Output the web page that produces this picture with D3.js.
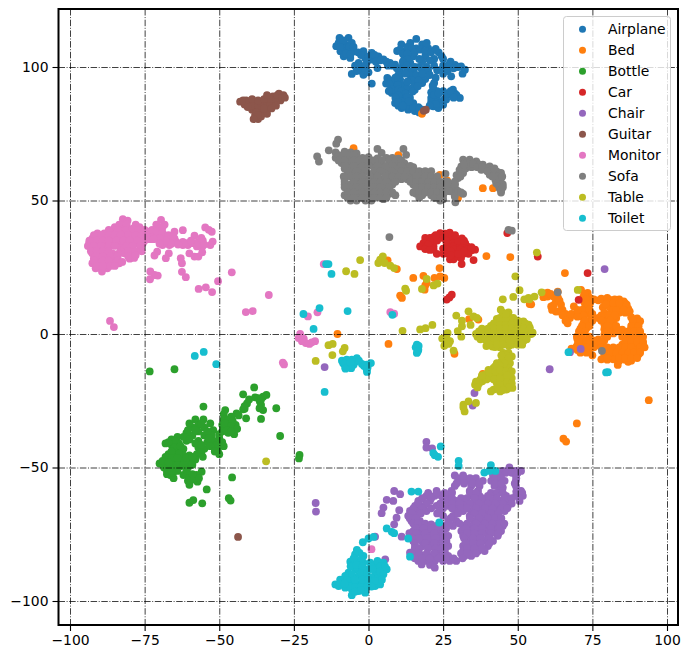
<!DOCTYPE html>
<html><head><meta charset="utf-8">
<script src="https://cdn.jsdelivr.net/npm/d3@7"></script>
<style>html,body{margin:0;padding:0;background:#fff}svg{display:block}text{font-family:"DejaVu Sans",sans-serif}</style>
</head><body><svg id="c" width="690" height="659"></svg>
<script>
const categories=["Airplane","Bed","Bottle","Car","Chair","Guitar","Monitor","Sofa","Table","Toilet"];
const palette=["#1f77b4","#ff7f0e","#2ca02c","#d62728","#9467bd","#8c564b","#e377c2","#7f7f7f","#bcbd22","#17becf"];
const xTicks=[-100,-75,-50,-25,0,25,50,75,100];
const yTicks=[-100,-50,0,50,100];
const airplane=[[-9.7,110.9],[-6.7,110.9],[-10.8,107.8],[-9.4,105.9],[-7.8,108.4],[-5.6,109],[-8.3,104],[-6.1,103.4],[-5,105.9],[-7,106.5],[-1.7,105.9],[-1.1,103.4],[1.1,105.3],[3.3,104],[1.1,102.8],[-3.3,101.5],[-5.6,97.4],[-2.2,98.4],[-1.7,97.1],[-2.8,99.6],[1.1,93.8],[3,99.6],[5,102.8],[7.2,101.5],[8.9,100.9],[10.6,98.4],[10.3,96.5],[6.3,95.9],[5.9,93.8],[8.9,94.6],[10.6,95.3],[11.1,93.4],[8.3,92.8],[7.8,90.3],[9.4,90.3],[11.7,89.7],[13.9,88.4],[15,86.5],[16.7,85],[8.9,86.5],[10,85.5],[11.1,84.6],[13.3,84],[15.5,83.5],[17,83],[18,84],[12,87],[10,88],[14,86],[9.6,106],[11,108.5],[12.5,106],[14,109],[16,110.5],[18,108.5],[20,107],[23.5,105.5],[15,104],[12,103],[14,101.5],[19,104],[22,103],[25,103],[11.5,100.5],[13,99],[15,98.5],[17,100],[19.5,100],[22,100.5],[25,100.5],[27.5,102],[29,100.8],[31,100.2],[32.3,99],[31.5,97.5],[26.5,98.5],[27.7,96.5],[25,97.5],[22.5,96],[15,96],[17,96.5],[19,95.5],[16,93.5],[18,94],[15.5,91.5],[21.7,92],[21,88.4],[21.7,85.3],[23.4,84.6],[25,85.9],[25,91],[28.3,91.5],[30.6,88.4],[27.2,89.6],[26,87.8],[23,88],[23,91],[21,90.5],[21,87],[29,90],[13,92],[18,102],[16,107],[19.5,109],
[-10,109],[-8.5,110],[-8,107],[-9.5,107.5],[-6.5,107.5],[-5,107.5],[-7.5,105],[-6,104.8],[-3.5,105.5],[-2.5,104.5],[0,104],[2,104.5],[-0.5,102],[2.5,102],[4,102.5],[6,102],[-4.5,100.5],[-3,100],[-4,98.5],[-1,99],[-1,100.8],[0,98],[6.5,100.5],[8,100.5],[9.5,99.5],[10,97],[9,96],[7.5,95],[9.8,93.3],[7,93.5],[8,91.5],[6.8,91],[10,91.5],[11,91],[12.5,90],[13,88.8],[10,89.5],[9,88.5],[11,87],[12.5,85.5],[9.8,86.8],[15,85],[13.5,87],[11.5,85.5],[17,84.5],[10.5,106.5],[11.5,105],[13,107.5],[14.5,107],[13,105],[15.5,105.5],[17.5,106.5],[19,106],[21,105.5],[22.5,106.8],[24.5,104],[17,103],[20.5,102.5],[13,102.8],[11.5,102],[12.8,100.5],[15.5,100],[18,98.5],[20,98.5],[23,98.8],[24.5,99],[26,99.5],[27,101],[30,100],[28.5,99.5],[14,97],[12.5,97.5],[16,97],[18,97.5],[20.5,97],[14.5,95],[13,94.5],[16.8,95],[15,92.5],[14.8,90.8],[16.5,92.8],[22,94],[21.5,93],[22,89.5],[23.5,90],[24,86.5],[25.5,88],[22.5,86.2],[26,90],[27.5,91],[29.5,89.5],[28.5,88.5],[20.5,85.5]];
const bed=[[58.4,15.3],[60,15.5],[63.4,15.9],[62.8,12.2],[61.2,10.3],[62.8,8.4],[65,9],[66.7,5.9],[66.7,4],[69,7.2],[68.8,10.3],[54.5,11.1],[58.6,13.8],[62,14],[63.5,13.5],[68,-5.5],[65.8,22.8],[93.9,-24.8],[69.8,-33.5],[65.3,-39.2],[66.2,-40.3],[-10.4,0],[6.7,-3.7],[9.5,24.3],[6.4,27.6],[10.6,14.4],[11.2,13.5],[15,21],[18.4,21.8],[23.8,24.7],[22.1,21],[24,21.6],[25.4,21],[19.5,19.1],[19,18.2],[18.8,16.6],[39.5,29.2],[47.5,28.8],[28.8,-7.4],[36.8,5.4],[33.7,5.6],[38.3,-14.9],[54,11.2],[25.9,-1.2],[17.9,82.5],[26.3,57.5],[38.3,54.6],[41.7,54.6],[30,51],[10,67],[-5,69.6],[23.9,59.6],
[71.2,16.5],[73.4,15.4],[72,14],[74,13.6],[72.3,12],[74.2,11.5],[77,12.6],[79,12.4],[81,12.8],[84,13],[85.5,12.2],[72.5,10],[78.5,10],[80.5,10.4],[83,10.2],[85,10],[87,9.5],[70.5,8],[73,8],[79,8],[81,7.8],[84,8],[86,8],[72,6],[74.5,6.5],[77,6],[80,5.7],[83,6],[88,6.3],[90,5.8],[72,4],[74,4.4],[79,3.6],[82,4],[89.5,4.2],[71,2],[73,2.2],[79,1.8],[81,2.4],[83,2],[85,1.6],[88,2],[90,1.8],[71.5,0],[79,-0.2],[82,0.2],[86,-0.2],[88,0],[91,0],[70,-2],[72,-2.2],[75,-2.3],[77,-2],[79,-2.4],[87,-2],[89,-1.8],[91.5,-2.2],[70,-4],[72,-4.2],[74,-4],[76,-4.4],[78,-4],[85,-4],[87,-4.2],[90,-4],[92,-4],[70,-6],[72,-6],[74,-5.7],[79,-6],[81,-6.2],[83,-6],[85,-6],[87,-6.2],[89,-6],[91,-5.8],[75,-8],[79,-8],[81,-8.2],[83,-8],[85,-8],[87,-8],[89,-8],[90.5,-7.6],[78,-9.5],[80,-9.6],[82,-9.5],[86,-9.6],[88,-10],[83.5,-11.6],[87,-10.4],[84,-10],
[72.5,15],[73,13],[75.5,13],[78,13.2],[80,13.5],[82.5,13],[86,11.5],[73.5,11],[79.5,11.2],[82,11.5],[84,11.5],[86.5,11],[71.5,9],[74,9.2],[82,9],[83,8.8],[85.5,9],[87.5,8.5],[72,7],[75,7.5],[78,7],[80.5,7],[82.5,7],[72.5,5],[75,5],[78,5],[81,5],[88.5,5],[91,4.8],[71.5,3],[74,3],[80,3],[83,3],[88,3],[90.5,3],[70.5,1],[72.5,1],[80,1],[83.5,1],[87,1],[89,1],[91,1],[69.8,-1],[71.5,-1],[74,-1],[80,-1],[85,-1],[88,-1],[90.5,-1],[92,-1],[70.5,-3],[73,-3],[76,-3],[78,-3],[86,-3],[88,-3],[90,-3],[92,-3],[69.5,-5],[71,-5],[73,-5],[75.5,-5],[78,-5],[80,-5],[82,-5],[84,-5],[86,-5],[88,-5],[91,-5],[92.5,-5],[71,-7],[73,-7],[79,-7],[81,-7],[83,-7],[85,-7],[87,-7],[89,-7],[91,-7],[80,-9],[84,-9],[86,-9],[88,-9],[90,-9],
[60,14],[61,15],[64,12.5],[62,10.8],[61.5,9],[63.5,8.5],[66,7.5],[67.5,6],[65,7],[68,7.5],[70,6.5],[70,9],[66,5],[64.5,11]];
const bottle=[[-73.3,-14],[-65,-13.2],[-38.3,-20],[-42,-22.6],[-55.3,-27.2],[-38,-23.7],[-36.4,-25.3],[-34.2,-22.8],[-35.3,-23.5],[-36,-26.6],[-35.3,-28.5],[-40.7,-26],[-42,-28.2],[-44.2,-29.7],[-30.9,-27.8],[-41,-31.6],[-36,-31.8],[-48,-28.5],[-48.5,-30],[-41.5,-28],[-46,-31],[-48.5,-32],[-46.5,-33],[-49,-34],[-47,-35],[-44.5,-34],[-49,-36.5],[-47,-37],[-45,-36],[-45,-37.5],[-29.6,-38.2],[-23.1,-45.3],[-23.3,-46.6],
[-50,-39],[-49,-40.5],[-48.5,-42],[-50.5,-43.5],[-50,-45],[-52,-36],[-53,-33.5],[-55.3,-32],[-58,-32],[-57,-34],[-55,-35],[-52.5,-38],[-55,-38],[-57,-36.5],[-59,-35],[-61,-37],[-59,-38],[-57,-40],[-54,-40.5],[-52,-40],[-64,-38.5],[-66,-39.5],[-68,-41],[-66,-41.5],[-63.5,-41],[-61,-40],[-62,-43],[-64,-43.5],[-57,-42.5],[-55,-43],[-57.5,-45],[-60,-45.5],[-62,-45.5],[-65,-45.5],[-67,-45],[-67,-47],[-65,-48],[-62.5,-47.5],[-60,-48],[-58,-47],[-68,-49],[-66,-50],[-63,-49.5],[-60.5,-50],[-59,-49],[-70,-48.5],[-66,-48.5],
[-66.4,-52.8],[-65.3,-54],[-67.5,-51.6],[-65.5,-52],[-62,-52.8],[-59.8,-53.4],[-60,-56.5],[-57.3,-55.3],[-55.9,-51.6],[-57.6,-52.8],[-60.5,-55],[-54.2,-58.2],[-45.7,-53.7],[-46.8,-61.5],[-46.2,-62.4],[-60,-63.2],[-58.7,-62.2],[-55.7,-63.4],
[-50,-37.5],[-51,-41.5],[-53,-42],[-51.5,-44],[-54,-36.5],[-56,-33.5],[-58,-36],[-60,-33.5],[-60.5,-36],[-62,-38.5],[-60,-39.5],[-58,-41],[-56,-41.5],[-53.5,-39],[-65,-40],[-67,-40.5],[-65,-42.5],[-63,-42],[-63.5,-44.8],[-66,-44],[-68,-46],[-66,-46.5],[-64,-46.5],[-61,-46.5],[-59,-46],[-56,-44.5],[-55.5,-46],[-69,-47.5],[-68.5,-50],[-67,-48],[-64,-49],[-62,-49],[-61,-51],[-67.5,-52.5],[-64,-51.3],[-47,-32],[-45.5,-32.5],[-48,-33.5],[-46,-34.5],[-44,-35.5],[-47.5,-36],[-46,-36.5],[-43.5,-30.5],[-40,-24.5],[-41.5,-27],[-37,-24],[-36,-24.5],[-36.5,-27.8],[-60,-54],[-58.5,-54.5],[-56.8,-54],[-59,-52.5],[-66,-51.3]];
const car=[[24,37.8],[25.7,37.6],[27.2,38],[19,36],[20.6,36],[23.4,36.2],[25,36],[27.3,36],[29,35.8],[31.3,35.8],[18.4,34],[21,34],[26.2,34],[28.5,34],[30.7,34],[32.4,34],[17.3,32.8],[19.5,32.8],[21.8,32.8],[26.2,32.8],[28.5,32.8],[30.7,32.8],[33,32.8],[35.7,31.6],[21.8,31.6],[26.2,31.6],[28.5,31.6],[30.7,31.6],[33,31.6],[34.5,31.4],[22.9,30],[25.1,30],[26.8,30],[29,30],[31.8,30],[33.5,30],[27.3,28],[28.5,28],[31.2,26.2],[35.2,27.7],[26.2,12.9],[27.1,13.7],[27.9,14.7],[46.5,37.8],[56.7,29],[73.4,22.8],[70.4,12.8],
[22,36.5],[21,35],[23,35],[26,36.5],[28,36.8],[26,35],[30,35],[32,35],[20,33.5],[19,31.8],[20.5,31.5],[25,32],[25.5,30.5],[27.5,31],[27.5,29.5],[30,29],[31,28.5],[32,31],[30,30],[34.5,32.5],[29,37],[22.5,37]];
const chair=[[19.4,-40.4],[19.4,-42.5],[21.3,-42.8],[8.6,-58.8],[10.6,-60],[6.1,-62.1],[8.3,-62.5],[5,-65],[4.4,-67.1],[10.3,-66],[9.4,-68.8],[8.6,-71.3],[11.1,-75.9],[13.7,-74.6],[13.9,-81.9],[5.6,-84.4],[2.2,-75.9],[-17.7,-63.3],[-17.6,-66.5],[35.5,-22.1],[34.9,-26.8],[-14.7,-12.4],[79.1,24.3],[60.7,-13.2],[67.5,-6.8],[71.1,-5.6],
[47.2,-50],[45,-51.3],[47.2,-51.3],[49.4,-51.3],[51.1,-51.3],[28.9,-53],[31.7,-53],[41.7,-53],[43.9,-53],[49.4,-53],[30.6,-55],[33.3,-55],[35.6,-55],[38.3,-55],[41.1,-55],[43.3,-55],[45.6,-55],[49.4,-55],[28.9,-56.9],[34.4,-56.9],[37.2,-56.9],[42.2,-56.9],[44.4,-56.9],[45,-57.5],[49.4,-56.9],[22.8,-58.8],[27.8,-58.8],[33.9,-58.8],[36.7,-58.8],[43.9,-58.8],[51.1,-58.8],[19.4,-60.6],[22.2,-60.6],[24.4,-60.6],[26.7,-60.6],[34.4,-60.6],[37.2,-60.6],[40,-60.6],[42.8,-60.6],[46.1,-60.6],[49.4,-60.6],[51.7,-60.6],[16.7,-62.5],[20.6,-62.5],[26.1,-62.5],[29.4,-62.5],[31.7,-62.5],[36.1,-62.5],[38.9,-62.5],[41.7,-62.5],[44.4,-62.5],[47.2,-62.5],[50.6,-62.5],[15.6,-64.4],[18.3,-64.4],[22.8,-64.4],[26.7,-64.4],[29.4,-64.4],[32.8,-64.4],[35.6,-64.4],[38.3,-64.4],[41.4,-64.4],[43.9,-64.4],[46.7,-64.4],[13.9,-66.3],[16.7,-66.3],[19.4,-66.3],[23.9,-66.3],[29.4,-66.3],[31.7,-66.3],[34.4,-66.3],[37.2,-66.3],[40,-66.3],[42.8,-66.3],[45.6,-66.3],[13.3,-68.1],[16.1,-68.1],[25,-68.1],[28.3,-68.1],[33.9,-68.1],[36.7,-68.1],[39.4,-68.1],[42.2,-68.1],[14.4,-70],[17.2,-70],[26.7,-70],[29.4,-70],[35.6,-70],[38.3,-70],[41.1,-70],[43.9,-70],[15.6,-71.9],[17.8,-71.9],[20.6,-71.9],[22.8,-71.9],[25.6,-71.9],[28.3,-71.9],[31.7,-71.9],[34.4,-71.9],[37.2,-71.9],[40,-71.9],[42.8,-71.9],[45,-71.9],[15,-73.8],[17.2,-73.8],[20,-73.8],[22.2,-73.8],[24.4,-73.8],[31.1,-73.8],[33.9,-73.8],[36.7,-73.8],[39.4,-73.8],[42.2,-73.8],[44.4,-73.8],[15.6,-75.6],[18.3,-75.6],[21.1,-75.6],[23.9,-75.6],[26.7,-75.6],[31.7,-75.6],[34.4,-75.6],[37.2,-75.6],[40,-75.6],[43.3,-75.6],[15,-77.5],[17.8,-77.5],[20.6,-77.5],[23.3,-77.5],[26.1,-77.5],[33.3,-77.5],[36.1,-77.5],[38.9,-77.5],[41.7,-77.5],[15.6,-79.4],[18.3,-79.4],[21.1,-79.4],[23.9,-79.4],[26.7,-79.4],[31.7,-79.4],[34.4,-79.4],[37.2,-79.4],[40,-79.4],[16.1,-81.3],[22.8,-81.3],[25.6,-81.3],[31.7,-81.3],[33.9,-81.3],[36.7,-81.3],[38.9,-81.3],[15.6,-83.1],[18.3,-83.1],[21.1,-83.1],[23.9,-83.1],[26.7,-83.1],[32.2,-83.1],[34.4,-83.1],[16.7,-85],[19.4,-85],[22.2,-85],[25,-85],[27.2,-85],[29.4,-85],[17.8,-86.3],[20.6,-86.5],[22.2,-87.5],
[46,-52],[48,-52],[50,-52],[30,-54],[32,-54],[34,-54],[36,-54],[42.5,-54],[44.5,-54],[49.5,-54],[29.5,-56],[32,-56],[35,-56],[37,-56],[42.5,-56],[44.5,-56],[49,-56],[20,-59.5],[23,-59.5],[25.5,-59.5],[28,-59.5],[34,-59.5],[36,-59.5],[41,-59.5],[43,-59.5],[45,-59.5],[49.5,-59],[51.5,-59.5],[18,-61.5],[21,-61.5],[25,-61.5],[28,-61.5],[31,-61.5],[33,-61.5],[35.5,-61.5],[38,-61.5],[40.5,-61.5],[43,-61.5],[45.5,-61.5],[48,-61.5],[50.5,-61.5],[16.5,-63.5],[19.5,-63.5],[24,-63.5],[28,-63.5],[30.5,-63.5],[34,-63.5],[37,-63.5],[40,-63.5],[42.5,-63.5],[45,-63.5],[48,-63.5],[15,-65.3],[18,-65.3],[21,-65.3],[25,-65.3],[28,-65.3],[31,-65.3],[33,-65.3],[36,-65.3],[39,-65.3],[41.5,-65.3],[44.5,-65.3],[46.5,-65.3],[14.5,-67.2],[17.5,-67.2],[23,-67.2],[30,-67.2],[35.5,-67.2],[38,-67.2],[41,-67.2],[43.5,-67.2],[13.8,-69],[15.8,-69],[27.5,-69],[34,-69],[37,-69],[40,-69],[42.5,-69],[44.5,-69],[15,-71],[16.5,-71],[19,-71],[21,-71.3],[24,-71],[27,-71],[30.5,-71],[33,-71],[36,-71],[39,-71],[41.5,-71],[44,-71],[45.5,-71],[16,-72.8],[18.5,-72.8],[21,-72.8],[23.5,-72.8],[26,-72.8],[32.5,-72.8],[35.5,-72.8],[38,-72.8],[41,-72.8],[43.5,-72.8],[16,-74.7],[19,-74.7],[22,-74.7],[25,-74.7],[33,-74.7],[35.5,-74.7],[38,-74.7],[41,-74.7],[43.5,-74.7],[14.5,-76.5],[17,-76.5],[19.5,-76.5],[22.5,-76.5],[25,-76.5],[32,-76.5],[35,-76.5],[37.5,-76.5],[40.5,-76.5],[15.5,-78.4],[19,-78.4],[22,-78.4],[25,-78.4],[32.5,-78.4],[35,-78.4],[37.5,-78.4],[40.5,-78.4],[15.5,-80.3],[17,-80.3],[20,-80.3],[22.5,-80.3],[24.5,-80.3],[33,-80.3],[35.5,-80.3],[38,-80.3],[14.5,-82.2],[17,-82.2],[19.5,-82.2],[22,-82.2],[25,-82.2],[31,-82.2],[33,-82.2],[36,-82.2],[15.5,-84],[18,-84],[20.5,-84],[23.5,-84],[26,-84],[28.5,-84],[31.5,-84]];
const guitar=[[-43,87],[-41.5,86],[-41,87.5],[-39.5,86.5],[-38,86],[-39,84],[-37.5,84.5],[-36,85],[-38,82],[-37,80.5],[-36.5,83],[-35,83],[-35,86.5],[-33.5,85],[-34,87.5],[-32.5,87],[-31.5,86],[-32,89],[-30.5,88],[-29.5,87.5],[-28.5,89.5],[-30,90],[-34,82.5],[-43.7,-76],[19.2,84],[18.5,83.6],
[-42,87.5],[-40,87],[-39,85.5],[-37,85.5],[-37.5,83],[-36,81.5],[-36,86.5],[-34,85.5],[-33,86],[-32.5,84.5],[-35,84.5],[-33,88],[-31,87.5],[-30.5,89.5],[-29,88.5],[-28,88.5],[-40.5,85],[-37,82],[-38.5,80.5],[-39,88],[-37,87.5],[-35,88],[-34,89.5],[-31,85.5]];
const monitor=[[-82.3,43],[-80.7,42.5],[-85,40],[-82.8,39.5],[-76.7,40],[-79,38],[-90.8,37.7],[-88.5,37.7],[-86.3,37.7],[-84,37.7],[-81.8,37.7],[-79.5,37.7],[-77.3,37.7],[-75.6,37.7],[-92.5,35.8],[-90.2,35.8],[-88,35.8],[-85.8,35.8],[-83.5,35.8],[-81.3,35.8],[-79,35.8],[-76.8,35.8],[-93.6,34],[-91.4,34],[-89.1,34],[-86.9,34],[-84.7,34],[-82.4,34],[-78,34],[-75.6,34],[-93,32],[-90.8,32],[-88.5,32],[-83,32],[-81.8,32],[-79,32],[-76.2,32],[-92.5,30.2],[-90.2,30.2],[-88,30.2],[-85.8,30.2],[-81.8,30.2],[-79,30.2],[-92,28.4],[-89.7,28.4],[-87.5,28.4],[-85.2,28.4],[-80,28.2],[-92.5,26.5],[-90.2,26.5],[-88,26.5],[-85.8,26.5],[-83.5,26.5],[-91.4,24.6],[-89.1,24.6],[-87.5,24.6],[-89.3,23.4],[-84,30],[-78.5,28.5],
[-69.5,42.7],[-71.1,41],[-68.3,41],[-70,39.5],[-73.9,38.3],[-72.2,37.5],[-70.6,37],[-67.8,36.5],[-65,38.3],[-62.2,38.9],[-65,35.8],[-66.7,34.5],[-70,34.5],[-69,33.3],[-66.7,33.3],[-64.4,34.5],[-62.2,34.5],[-60.5,33.3],[-58.8,34],[-57,34.5],[-58.3,36.8],[-55.5,35],[-54.7,39.9],[-53.5,39],[-52.5,38.3],[-52.2,34.6],[-53,33.3],[-55.7,32.7],[-55.7,30.6],[-62.2,33.3],[-70.8,30.8],[-71.7,29.4],[-66.9,30.2],[-67.9,28.4],[-62.9,28.4],[-62.5,26.5],[-60,30.2],[-58.3,29],[-57,29],[-73.1,23.4],[-71.7,22.1],[-70.6,21.9],[-73.2,20.5],[-62.5,23.3],[-61.2,21.3],[-45.8,23.1],[-50.4,19.8],[-56.9,16.9],[-54.5,17.5],[-52.4,15.7],[-33.4,14.6],[-41.1,8.2],[-38.8,8.6],[-86.6,4.9],[-85.3,2.6],
[-22.9,0],[-23.4,-1.5],[-22.3,-2.7],[-21,-3.4],[-19.8,-3.7],[-17.9,-2.7],[-19,-3.1],[-21.7,-1.7],[-20.3,6.6],[-17.1,8.1],[-15,26.2],[7.3,8.2],[8.6,7.6],[-28.7,-10.7],[-28.3,-11.4],[1,-80.6],
[-83.5,41],[-81,41],[-78,41],[-87,39],[-84,39],[-81,39],[-79,39.5],[-77,39],[-75,39],[-92,37],[-89.5,37],[-87,37],[-85,37],[-83,37],[-80.5,37],[-78,37],[-76,37],[-93.5,35],[-91,35],[-89,35],[-87,35],[-84.5,35],[-82,35],[-80,35],[-77.5,35],[-75,35],[-94,33],[-92,33],[-89.5,33],[-87,33],[-85,33],[-81,33],[-79,33],[-76.5,33],[-93,31],[-91,31],[-89,31],[-87,31],[-80.5,31],[-78,31],[-76,31],[-91.5,29],[-89,29],[-86.5,29],[-84,29],[-80.5,29],[-78,29.5],[-92,27.5],[-89,27.5],[-87,27.5],[-84,27.5],[-82.5,27],[-91,25.5],[-89,25.5],[-86.5,25.5],[-85,25.5],[-72.5,39],[-71,38.5],[-69,40],[-69,38],[-67,37],[-65.5,36.5],[-66,33.8],[-68,35],[-70,35.8],[-63.8,33.5],[-61,34],[-59.5,35],[-57.5,32.8],[-55,33.5],[-56,36],[-70,33.8],[-74.5,36.5],[-73.2,35.5],[-72,35.5]];
const sofa=[[-10.2,72.8],[-10.8,71.3],[-13.3,68.8],[-17.2,66.5],[-16.6,64.6],[3,69.3],[4.4,67.8],[11.7,69.3],[12.6,67.1],[-11,68],[-8,68.3],[-6,68],[-4,67.6],[-11,66],[-9,66],[-6.5,66],[-4,66],[-2,66],[0,66.2],[3,65.8],[6,66],[8,66],[10,65.7],[-9,64],[-7,64],[-4,64],[-2,64],[0,64],[2,64],[4,64],[7,64],[9,64],[12,64],[-8,62],[-6,62],[-3,62],[-1,62],[2,62],[5,62],[7,62],[10,62],[13,62],[15,62.5],[-7,60],[-5,60],[-2,60],[1,60],[3,60],[6,60],[9,60],[12,60],[14,60],[16,60],[18,60.5],[21,61],[-8,58],[-5,58],[-3,58],[-1,58],[2,58],[4,58],[7,58],[9,58],[11,58],[13,58],[15,58],[17,58],[20,58],[22,58],[-8,56],[-6,56],[-3,56],[-1,56],[1,56],[3,56],[5,56],[8,56],[15,56],[17,56],[19,56],[21,56],[23,56],[25,56],[-7,54],[-5,54],[-3,54],[0,54],[2,54],[4,54],[6,54],[16,54],[18,54],[20,54],[22,54],[24,54],[-8,52],[-6,52],[-4,52],[-2,52],[1,52],[3,52],[5,52],[7,52.5],[9,52],[16,52.5],[18,52],[21,52],[23,52],[25,52],[-6,50],[-4,50],[-1,50],[1,50],[5,50.5],[24,50],[25,50.5],[31.7,65.3],[33.9,65.3],[36.1,64.6],[38.3,63.4],[40.6,62.8],[42.8,60.9],[44.4,60.3],[43.9,57.8],[42.8,56.5],[43.9,54.6],[44.4,53],[31.1,62.8],[33.3,63.4],[35.6,62.8],[37.8,61.5],[31.7,60.3],[30,58.4],[28.9,57.1],[28.3,55.3],[27.8,53.4],[29.4,54],[31.7,52.5],[29.1,49.3],[28.9,51.5],[40.6,59.6],[25.8,60],[63.4,15.6],[78.2,-6.3],[7,36.3],[46.9,39],[48,38.7],
[-10,67],[-7,67],[-5,67],[-10,65],[-8,65],[-5,65],[-3,65],[-1,65],[1,65],[2,65],[4.5,65],[7,65],[9,65],[11,65],[-8,63],[-5,63],[-2,63],[0,63],[3,63],[6,63],[8,63],[11,63],[14,63],[-7,61],[-4,61],[-1,61],[2,61],[4,61],[8,61],[11,61],[13,61],[15,61],[17,61],[19,61],[-8.3,59],[-6,59],[-4,59],[-2,59],[0.5,59],[3,59],[5.5,59],[8,59],[10,59],[12,59],[16,59],[19,59],[21,59],[23,59],[-8,57],[-5,57],[-2,57],[0,57],[2,57],[4,57],[6,57],[9,57],[14,57],[16,57],[18,57],[20,57],[22,57],[24,57],[25.5,57],[-8,55],[-6,55],[-4,55],[-2,55],[0,55],[2,55],[4,55],[7,55],[16,55],[18,55],[20,55],[22,55],[24,55],[26,55],[-7,53],[-5,53],[-2,53],[0,53],[2,53],[4,53],[6,53],[8,53],[15,53],[17,53],[19,53],[21,53],[23,53],[25,53],[-7,51],[-5,51],[-2,51],[0,51],[2,51],[4,51],[6,51],[17,51],[22,51],[24,51],
[32.5,64.5],[34.5,64.2],[37,63.5],[39.5,62.2],[41.5,61.5],[43.5,60.5],[41.5,60],[43,59],[44.5,58.5],[42.5,57.8],[43.3,56],[44,55.5],[44.5,54],[30.5,61.5],[32.5,62],[34.5,62.5],[29.5,59.5],[30.8,59],[29,56],[27.5,55],[27,53.5],[30,53.5],[31,53],[26.5,57],[33,64],[35,63.8],[36.5,62.5],[38,62.5],[39.8,61],[41.5,59],[42.2,62],[44.8,59],[45,56],[45,55],[32,63.5]];
const table=[[-2.8,27.7],[-7.5,23.5],[-4.7,22.5],[3.9,27.8],[4.8,29.1],[3.3,26.6],[5.4,26.6],[7.3,25.6],[8.6,24.7],[19.5,20.6],[12.3,17],[12.6,16.2],[17.9,16.9],[21.8,18.2],[23.1,18.9],[11.4,1.2],[17.3,1.7],[19.1,2.2],[21.4,3.4],[29.4,6.9],[33.5,8.5],[31.3,5],[31.3,2.9],[34.2,3.4],[29.9,1.1],[31.1,-1],[35.2,6.6],[36.3,6],[26.5,0.4],[24.7,-1.7],[26.2,-1.7],[27.3,-2.7],[25.4,-4.4],[26.8,-3.7],[28.5,-6.2],[-8,-5.2],[-8.6,-6.5],[-12,-3.7],[-13.4,-4.2],[-12.1,-7.9],[-17.7,-10.1],[-34.3,-47.7],[49.2,21.6],[50.6,16.4],[45,13],[48.5,13.9],[53.6,13.5],[52.2,13],[53.9,13],[55.6,14],[58,15.6],[56.4,30.5],[70.1,16.5],
[44.3,9.1],[46.9,8.1],[43,5.7],[45.2,6.6],[47.4,6],[51.9,4.7],[53.6,3.5],[41,3],[43,3],[45,3],[47,3],[49,3],[50.5,3],[52.5,2.8],[54,2.5],[37,1],[39,1],[41,1],[43,1],[45,1],[47,1],[49,1],[51,1],[53,1],[55,0.5],[36.5,-1],[38.5,-1],[41,-1],[43,-1],[45,-1],[47,-1],[49,-1],[51,-1],[53,-1],[40,-3],[42,-3],[44,-3],[46,-3],[48,-3],[50,-3],[52,-2.5],[39.5,-4.5],[41.5,-4.7],[44,-5],[47,-4.5],[42.4,-4.9],
[45.2,-7.1],[46.9,-7.1],[48,-8.4],[44.6,-10.2],[46.3,-10.2],[47.4,-10.9],[43,-10.9],[41.9,-12.7],[40.2,-13.4],[45.2,-12.7],[46.9,-12.7],[39.1,-15.2],[41.9,-15.2],[44.1,-15.2],[37.4,-17.1],[35.7,-19],[38.1,-17.7],[40.3,-16.5],[43,-18.4],[45.8,-16.5],[48,-16.5],[45.2,-19],[47.4,-18.4],[41.9,-20.8],[44.1,-21.5],[46.3,-20.8],[48.2,-20.2],[31.8,-26.5],[33.5,-25.2],[36,-25.8],[32.2,-29],[31.8,-27.5],
[42,4],[44,4],[46,4],[48,4],[50.5,4],[52.5,4],[38,2],[40,2],[42,2],[44,2],[46,2],[48,2],[50,2],[52,2],[54,2],[36,0],[38,0],[40,0],[42,0],[44,0],[46,0],[48,0],[50,0],[52,0],[54.5,0],[37.5,-2],[39,-2],[41,-2],[43,-2],[45,-2],[47,-2],[49,-2],[51,-2],[53,-2],[40.5,-4],[43,-4],[45,-4],[48,-4],[50,-4],[51.5,-4],[44,6],[46,6],[48.5,6],[50,5],[45,8],[46,7.5],
[46,-8],[44.5,-8],[47,-9],[45.5,-11],[44,-12],[42.5,-12],[40.5,-14.5],[42.5,-14],[44,-13.5],[46,-14],[48,-14],[47.5,-15],[46.5,-15.5],[38,-16],[39.5,-17],[37,-18.5],[36,-17.8],[42,-17],[44,-16.7],[44,-19],[46.5,-18],[48,-18.5],[43,-20.5],[47,-20],[45,-21],[41,-21.5],[36.5,-20],[38,-15.5]];
const toilet=[[-14.2,26.2],[-13.4,26.2],[-12.4,22.5],[-7,8.6],[-16.4,9.7],[-21.8,7.5],[-18.4,1.9],[8,7.2],[-8.9,-10],[-7.3,-9.6],[-5.6,-9.6],[-3.9,-9],[-7.8,-12.5],[-5,-11.5],[-6.7,-10.9],[-2.2,-11.2],[-0.6,-11.5],[0.8,-10.9],[-0.6,-13.4],[16.2,-4],[16.7,-5.9],[16.2,-7.1],[79.6,-14.4],[80.2,-14.3],[67,-6.8],[-58.2,-8.2],[-55.2,-6.7],[-51,-11.3],[-14.7,-21.7],
[24.2,-42.1],[22.2,-45.4],[23.3,-46],[21.7,-44.6],[30.2,-47.5],[30.2,-49.4],[41,-49.1],[38.8,-51.9],[42.5,-51.3],[40.5,-51.3],[14.4,-59],[16.7,-59],[23.7,-70.6],[6.1,-72.8],[7.8,-74.1],[8.6,-74.6],[13.3,-76.6],[13.9,-83.4],[-1.9,-78],[0,-76.6],[1.7,-76],
[-3.9,-80.9],[-1.7,-83.1],[5,-85.6],[6.1,-88.1],[-6.1,-85.3],[-3.9,-85],[-1.7,-85.6],[0.6,-85.6],[2.8,-86.9],[5,-88.8],[-6.7,-89.4],[-4.4,-88.1],[-2.2,-88.1],[0,-88.1],[2.2,-89.4],[-7.8,-90.6],[-5.6,-91.3],[-3.3,-90.6],[-1.1,-90.6],[1.1,-91.3],[3.3,-91.3],[-11.1,-93.8],[-8.9,-93.1],[-6.7,-93.1],[-4.4,-93.1],[-2.2,-93.1],[0,-93.1],[2.2,-94.4],[3.9,-93.8],[-7.8,-95],[-5.6,-95.6],[-3.3,-96.3],[-1.1,-96.9],[-5.6,-97.8],[-10,-94.4],
[-3,-82],[-4.5,-82.5],[-5,-84],[-2.5,-84.5],[-6,-87],[-4,-86.5],[-2,-87],[1,-87],[3,-85],[4,-87],[5.5,-87],[-5.5,-90],[-2.5,-89.5],[-0.5,-89.5],[1.5,-88],[3.8,-89],[5,-90],[-9.5,-92],[-7.2,-92.2],[-4.5,-92],[-2,-92],[0,-92],[2,-92.5],[4.5,-92],[-9.5,-93.5],[-6.5,-94.5],[-4.5,-94.8],[-2.5,-94.8],[-0.5,-94.8],[1,-94.6],[-4.5,-96.5],[-2.5,-96],[-8,-93.5],[-8.5,-11],[-7,-12],[-5.8,-12.8],[-4.5,-10.5],[-6,-12],[-8,-11],[-3.2,-10],[-1.5,-12],[-0.3,-12.5],[-0.5,-14.2],[-7.7,-13],[-6,-10.5],[15.8,-5],[16.8,-4.5],[16.5,-6.5]];
const seriesPoints=[airplane,bed,bottle,car,chair,guitar,monitor,sofa,table,toilet];

const svg=d3.select("#c");
const x=d3.scaleLinear().domain([-100,100]).range([70,667]);
const y=d3.scaleLinear().domain([100,-100]).range([67,601]);
const L=58.5,R=678,T=9,B=625;
const plot=svg.append("g");
seriesPoints.forEach((pts,i)=>{
  plot.append("g").selectAll("circle").data(pts).join("circle")
    .attr("cx",d=>x(d[0])).attr("cy",d=>y(d[1])).attr("r",3.9).attr("fill",palette[i]);
});
const grid=svg.append("g").attr("stroke","#000").attr("stroke-opacity",0.75).attr("stroke-width",1).attr("stroke-dasharray","6.5 1.6 1 1.6").attr("fill","none");
grid.selectAll("line.v").data(xTicks).join("line").attr("class","v").attr("x1",d=>x(d)+.5).attr("x2",d=>x(d)+.5).attr("y1",T).attr("y2",B);
grid.selectAll("line.h").data(yTicks).join("line").attr("class","h").attr("x1",L).attr("x2",R).attr("y1",d=>y(d)+.5).attr("y2",d=>y(d)+.5);

const ax=svg.append("g").attr("transform",`translate(0,${B})`).call(d3.axisBottom(x).tickValues(xTicks).tickSize(6).tickPadding(4));
const ay=svg.append("g").attr("transform",`translate(${L},0)`).call(d3.axisLeft(y).tickValues(yTicks).tickSize(6).tickPadding(4));
[ax,ay].forEach(a=>{a.select(".domain").remove();a.selectAll("text").attr("font-size",13.9).attr("font-family","DejaVu Sans").attr("fill","#000");a.selectAll("line").attr("stroke","#000").attr("stroke-width",1.1);});
svg.append("rect").attr("x",L).attr("y",T).attr("width",R-L).attr("height",B-T).attr("fill","none").attr("stroke","#000").attr("stroke-width",2);

const leg=svg.append("g");
leg.append("rect").attr("x",563.5).attr("y",16.5).attr("width",107).attr("height",214).attr("rx",3).attr("fill","#fff").attr("fill-opacity",0.8).attr("stroke","#ccc").attr("stroke-width",1);
categories.forEach((c,i)=>{
  const g=leg.append("g").attr("transform",`translate(0,${29.3+i*21})`);
  g.append("circle").attr("cx",582.5).attr("r",3.5).attr("fill",palette[i]);
  g.append("text").attr("x",608).attr("y",5).attr("font-size",13.9).attr("fill","#000").text(c);
});
</script></body></html>
